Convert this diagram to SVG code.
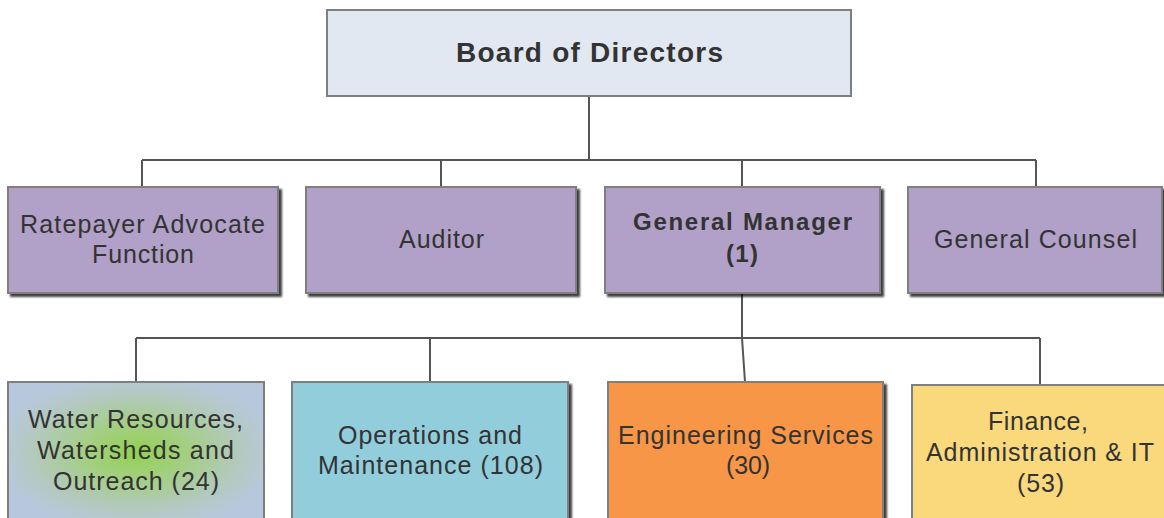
<svg xmlns="http://www.w3.org/2000/svg" width="1164" height="518" viewBox="0 0 1164 518">
<defs>
<radialGradient id="green" cx="0.5" cy="0.5" r="0.55">
<stop offset="0" stop-color="#93d052"/>
<stop offset="0.35" stop-color="#a3cf80"/>
<stop offset="0.75" stop-color="#b3c9c0"/>
<stop offset="1" stop-color="#b8c8dc"/>
</radialGradient>
<filter id="sh" x="-5%" y="-5%" width="115%" height="115%">
<feGaussianBlur in="SourceAlpha" stdDeviation="1"/>
<feOffset dx="3" dy="3" result="b"/>
<feComponentTransfer><feFuncA type="linear" slope="0.75"/></feComponentTransfer>
<feMerge><feMergeNode/><feMergeNode in="SourceGraphic"/></feMerge>
</filter>
</defs>
<style>
.box{stroke:#7f7f7f;stroke-width:2}
.p{fill:#b1a0c7}
.sh{filter:url(#sh)}
text{font-family:"Liberation Sans",Arial,sans-serif;fill:#333;text-anchor:middle}
.t{font-size:25px}
.b{font-weight:bold}
.c{fill:none;stroke:#555;stroke-width:2}
</style>
<rect width="1164" height="518" fill="#fff"/>
<g id="connectors">
<path class="c" d="M589 96V160M142 160H1036M142 160V187M441 160V187M742 160V187M1036 160V187"/>
<path class="c" d="M742 293V338L745 382M136 338H1040M136 338V382M430 338V382M1040 338V385"/>
</g>
<g id="board">
<rect class="box" x="327" y="10" width="524" height="86" fill="#e1e8f2"/>
<text class="b" x="589.5" y="62" font-size="28" textLength="267" lengthAdjust="spacing">Board of Directors</text>
</g>
<g id="ratepayer">
<rect class="box p sh" x="8" y="187" width="270" height="106"/>
<text class="t" x="142.5" y="233" textLength="245" lengthAdjust="spacing">Ratepayer Advocate</text>
<text class="t" x="143" y="263" textLength="102" lengthAdjust="spacing">Function</text>
</g>
<g id="auditor">
<rect class="box p sh" x="306" y="187" width="270" height="106"/>
<text class="t" x="441.5" y="248" textLength="85" lengthAdjust="spacing">Auditor</text>
</g>
<g id="gm">
<rect class="box p sh" x="605" y="187" width="275" height="106"/>
<text class="b" x="742.5" y="230" font-size="24" textLength="219" lengthAdjust="spacing">General Manager</text>
<text class="b" x="742" y="262" font-size="24" textLength="32" lengthAdjust="spacing">(1)</text>
</g>
<g id="counsel">
<rect class="box p sh" x="908" y="187" width="254" height="106"/>
<text class="t" x="1035.5" y="248" textLength="203" lengthAdjust="spacing">General Counsel</text>
</g>
<g id="water">
<rect class="box" x="8" y="382" width="256" height="140" fill="url(#green)"/>
<text class="t" x="135.5" y="428" textLength="215" lengthAdjust="spacing">Water Resources,</text>
<text class="t" x="135.5" y="459" textLength="197" lengthAdjust="spacing">Watersheds and</text>
<text class="t" x="136" y="490" textLength="166" lengthAdjust="spacing">Outreach (24)</text>
</g>
<g id="ops">
<rect class="box sh" x="292" y="382" width="276" height="140" fill="#92cddc"/>
<text class="t" x="430" y="444" textLength="184" lengthAdjust="spacing">Operations and</text>
<text class="t" x="430.5" y="474" textLength="225" lengthAdjust="spacing">Maintenance (108)</text>
</g>
<g id="eng">
<rect class="box sh" x="608" y="382" width="275" height="140" fill="#f79646"/>
<text class="t" x="745.5" y="444" textLength="255" lengthAdjust="spacing">Engineering Services</text>
<text class="t" x="748" y="474" textLength="44" lengthAdjust="spacing">(30)</text>
</g>
<g id="finance">
<rect class="box" x="912" y="385" width="260" height="140" fill="#fad87c"/>
<text class="t" x="1038" y="430" textLength="100" lengthAdjust="spacing">Finance,</text>
<text class="t" x="1040" y="461" textLength="228" lengthAdjust="spacing">Administration &amp; IT</text>
<text class="t" x="1040.5" y="492" textLength="47" lengthAdjust="spacing">(53)</text>
</g>
</svg>
